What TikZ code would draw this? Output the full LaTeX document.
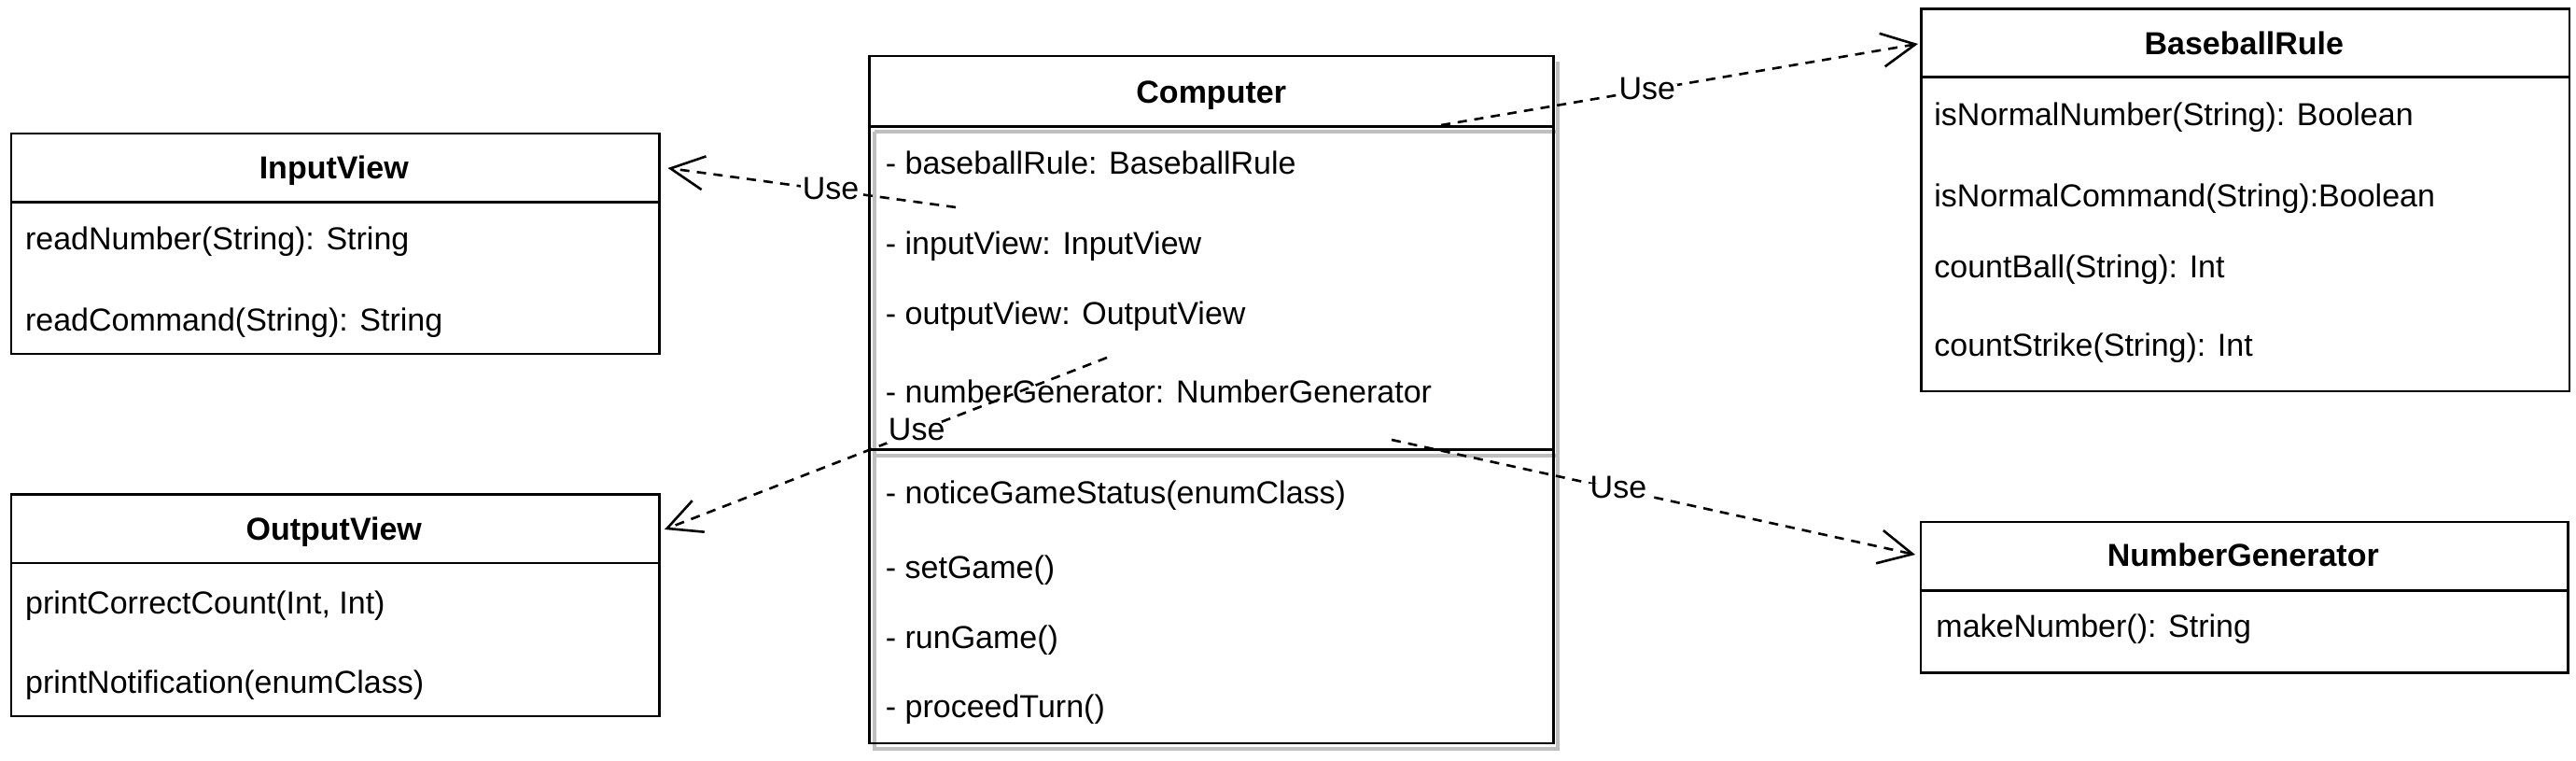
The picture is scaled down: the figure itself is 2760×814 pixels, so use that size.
\documentclass[tikz,border=0pt]{standalone}
\usepackage{fontspec}
\setmainfont{Liberation Sans}
\usetikzlibrary{arrows.meta}
\begin{document}
\begin{tikzpicture}[x=0.5pt,y=-0.5pt,
  frame/.style={draw=black,line width=1.3pt,fill=white,inner sep=0pt,anchor=north west},
  rule/.style={draw=black,line width=1.3pt},
  shade/.style={draw=black!25,line width=1.6pt},
  fnt/.style={font=\fontsize{17}{20}\selectfont},
  ttl/.style={font=\fontsize{17}{20}\selectfont\bfseries,inner sep=0pt,text height=0.75em,text depth=0.25em,yshift=-2.5pt},
  itm/.style={fnt,anchor=west,inner sep=0pt,text height=0.75em,text depth=0.25em,yshift=-3pt},
  uses/.style={draw=black,line width=1.3pt,dash pattern=on 5pt off 4pt,-{Straight Barb[length=18pt,width=18pt]}},
  lbl/.style={fnt,fill=white,inner xsep=1pt,inner ysep=1pt,text height=0.72em,text depth=0.05em,yshift=-1.5pt}
]
\useasboundingbox (0,0) rectangle (2760,814);

% ---------- InputView ----------
\node[frame,minimum width=347.25pt,minimum height=118pt] (inputview) at (10.5,141.7) {};
\draw[rule] (10.5,216.7) -- (705,216.7);
\node[ttl] (inputviewT) at (357.75,181.7) {InputView};
\node[itm] (iv1) at (26.7,256.7) {readNumber(String): String};
\node[itm] (iv2) at (26.7,343) {readCommand(String): String};

% ---------- OutputView ----------
\node[frame,minimum width=347.25pt,minimum height=118.7pt] (outputview) at (10.5,528.3) {};
\draw[rule] (10.5,603) -- (705,603);
\node[ttl] (outputviewT) at (357.75,568) {OutputView};
\node[itm] (ov1) at (26.7,646.7) {printCorrectCount(Int, Int)};
\node[itm] (ov2) at (26.7,731.7) {printNotification(enumClass)};

% ---------- Computer ----------
\node[fill=white,inner sep=0pt,anchor=north west,minimum width=366.1pt,minimum height=367.5pt] (computer) at (931.6,60) {};
\draw[shade] (1669,66) -- (1669,802) -- (937,802) -- (937,141);
\draw[shade] (937,141) -- (1669,141);
\draw[shade] (937,488) -- (1669,488);
\draw[rule] (computer.north west) rectangle (computer.south east);
\draw[rule] (931.6,135.7) -- (1663.8,135.7);
\draw[rule] (931.6,481.7) -- (1663.8,481.7);
\node[ttl] (computerT) at (1297.7,100) {Computer};
\node[itm] (c1) at (948.5,175) {- baseballRule: BaseballRule};
\node[itm] (c2) at (948.5,261.7) {- inputView: InputView};
\node[itm] (c3) at (948.5,336.7) {- outputView: OutputView};
\node[itm] (c4) at (948.5,420) {- numberGenerator: NumberGenerator};
\node[itm] (m1) at (948.5,528) {- noticeGameStatus(enumClass)};
\node[itm] (m2) at (948.5,608) {- setGame()};
\node[itm] (m3) at (948.5,683) {- runGame()};
\node[itm] (m4) at (948.5,757) {- proceedTurn()};

% ---------- BaseballRule ----------
\node[frame,minimum width=347.3pt,minimum height=204.7pt] (baseballrule) at (2057,8.3) {};
\draw[rule] (2057,82.7) -- (2751.6,82.7);
\node[ttl] (baseballruleT) at (2404.3,48.3) {BaseballRule};
\node[itm] (b1) at (2072,123.3) {isNormalNumber(String): Boolean};
\node[itm] (b2) at (2072,210) {isNormalCommand(String):Boolean};
\node[itm] (b3) at (2072,286) {countBall(String): Int};
\node[itm] (b4) at (2072,370) {countStrike(String): Int};

% ---------- NumberGenerator ----------
\node[frame,minimum width=346.7pt,minimum height=80.65pt] (numbergenerator) at (2056.6,557.7) {};
\draw[rule] (2056.6,632.3) -- (2750,632.3);
\node[ttl] (numbergeneratorT) at (2403.3,596.7) {NumberGenerator};
\node[itm] (n1) at (2074,671.7) {makeNumber(): String};

% ---------- connectors ----------
\coordinate (s1) at (1024,222);  \coordinate (t1) at (715.5,180);
\coordinate (s2) at (1186,383);  \coordinate (t2) at (712,567);
\coordinate (s3) at (1544,134);  \coordinate (t3) at (2055,47);
\coordinate (s4) at (1491,471);  \coordinate (t4) at (2052,594);

\draw[uses] (s1) -- node[lbl,pos=0.434] (u1) {Use} (t1);
\draw[uses] (s2) -- node[lbl,pos=0.43] (u2) {Use} (t2);
\draw[uses] (s3) -- node[lbl,pos=0.432] (u3) {Use} (t3);
\draw[uses] (s4) -- node[lbl,pos=0.433] (u4) {Use} (t4);
\end{tikzpicture}
\end{document}
